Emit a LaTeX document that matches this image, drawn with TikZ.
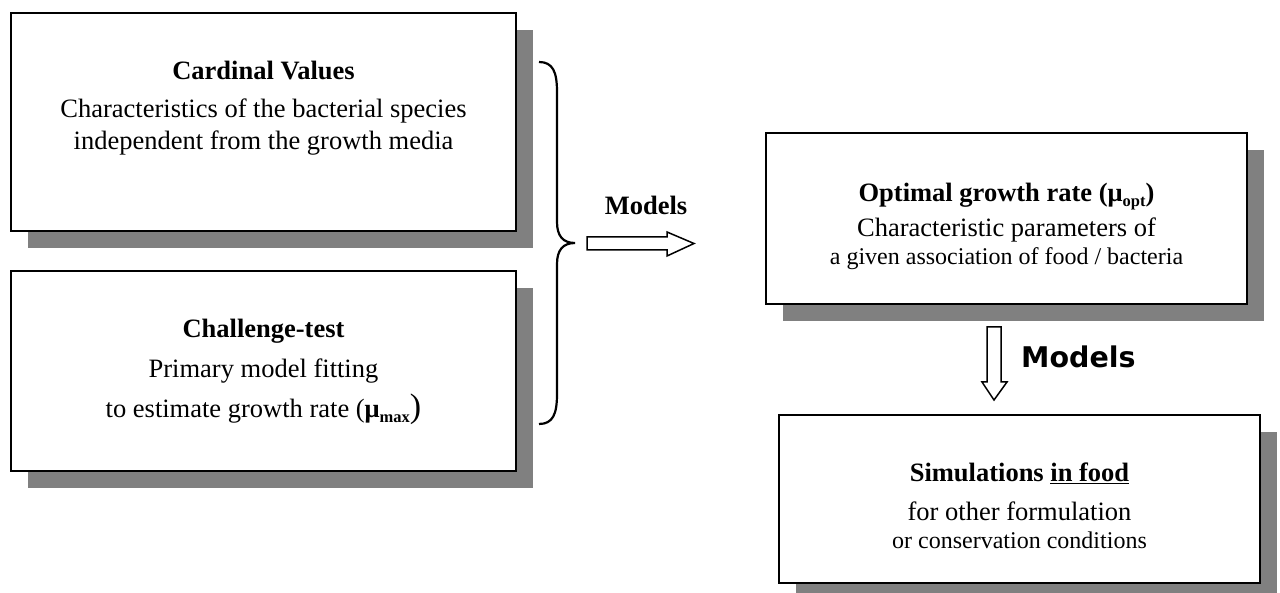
\documentclass[tikz,border=0pt]{standalone}
\usepackage{fontspec}
\setmainfont{Liberation Serif}
\newfontfamily\sansbold{DejaVu Sans}
\usetikzlibrary{shadows}
\definecolor{shadowgray}{HTML}{808080}
\newcommand\bodysz{\fontsize{26.5}{30}\selectfont}
\newcommand\smallsz{\fontsize{24}{28}\selectfont}
\newcommand\subtxt[1]{\raisebox{-5pt}{\fontsize{16.5}{17}\selectfont #1}}
\begin{document}
\begin{tikzpicture}[x=1pt,y=-1pt,
  box/.style={draw=black, line width=1.5pt, fill=white, inner sep=0pt,
    drop shadow={shadow xshift=17pt, shadow yshift=-17pt, fill=shadowgray, opacity=1}},
  txt/.style={anchor=base, inner sep=0pt, font=\bodysz},
  txtsmall/.style={anchor=base, inner sep=0pt, font=\smallsz},
  blockarrow/.style={draw=black, line width=1.5pt, fill=white, line join=miter},
  bracestyle/.style={draw=black, line width=2.2pt}
]
\clip (0,0) rectangle (1280,593);
\fill[white] (0,0) rectangle (1280,593);

% boxes
\node[box, minimum width=505pt, minimum height=218pt] (b1) at (263.5,122) {};
\node[box, minimum width=505pt, minimum height=200pt] (b2) at (263.5,371) {};
\node[box, minimum width=481pt, minimum height=171pt] (b3) at (1006.5,218.5) {};
\node[box, minimum width=481pt, minimum height=168pt] (b4) at (1019.5,499) {};

% box 1 text
\node[txt] (b1a) at (263.5,80) {\textbf{Cardinal Values}};
\node[txt] (b1b) at (263.5,118) {Characteristics of the bacterial species};
\node[txt] (b1c) at (263.5,150) {independent from the growth media};

% box 2 text
\node[txt] (b2a) at (263.5,338) {\textbf{Challenge-test}};
\node[txt] (b2b) at (263.5,378) {Primary model fitting};
\node[txt] (b2c) at (263.5,418) {to estimate growth rate (\textbf{μ\subtxt{max}}{\fontsize{34}{34}\selectfont )}};

% box 3 text
\node[txt] (b3a) at (1006.5,202) {\textbf{Optimal growth rate (μ\subtxt{opt})}};
\node[txt] (b3b) at (1006.5,237) {Characteristic parameters of};
\node[txtsmall] (b3c) at (1006.5,265) {a given association of food / bacteria};

% box 4 text
\node[txt] (b4a) at (1019.5,482) {\textbf{Simulations \underline{in food}}};
\node[txt] (b4b) at (1019.5,520) {for other formulation};
\node[txtsmall] (b4c) at (1019.5,548) {or conservation conditions};

% brace
\coordinate (bracetop) at (539,62);
\coordinate (bracetip) at (575,243);
\coordinate (bracebot) at (539,424);
\draw[bracestyle] (bracetop) .. controls (553,62) and (557,72) .. (557,92)
  -- (557,222) .. controls (557,236) and (563,243) .. (bracetip)
  .. controls (563,243) and (557,250) .. (557,264)
  -- (557,394) .. controls (557,414) and (553,424) .. (bracebot);

% right block arrow
\node[txt, font=\bodysz\bfseries] (m1) at (646,215) {Models};
\draw[blockarrow] (587,237) -- (667,237) -- (667,232) -- (694,243.5) -- (667,256) -- (667,250) -- (587,250) -- cycle;

% down block arrow
\draw[blockarrow] (987,327) -- (1001,327) -- (1001,382) -- (1007,382) -- (994,400) -- (982,382) -- (987,382) -- cycle;
\node[anchor=base west, inner sep=0pt, font=\sansbold\bfseries\fontsize{28.5}{30}\selectfont] (m2) at (1021,368) {Models};
\end{tikzpicture}
\end{document}
